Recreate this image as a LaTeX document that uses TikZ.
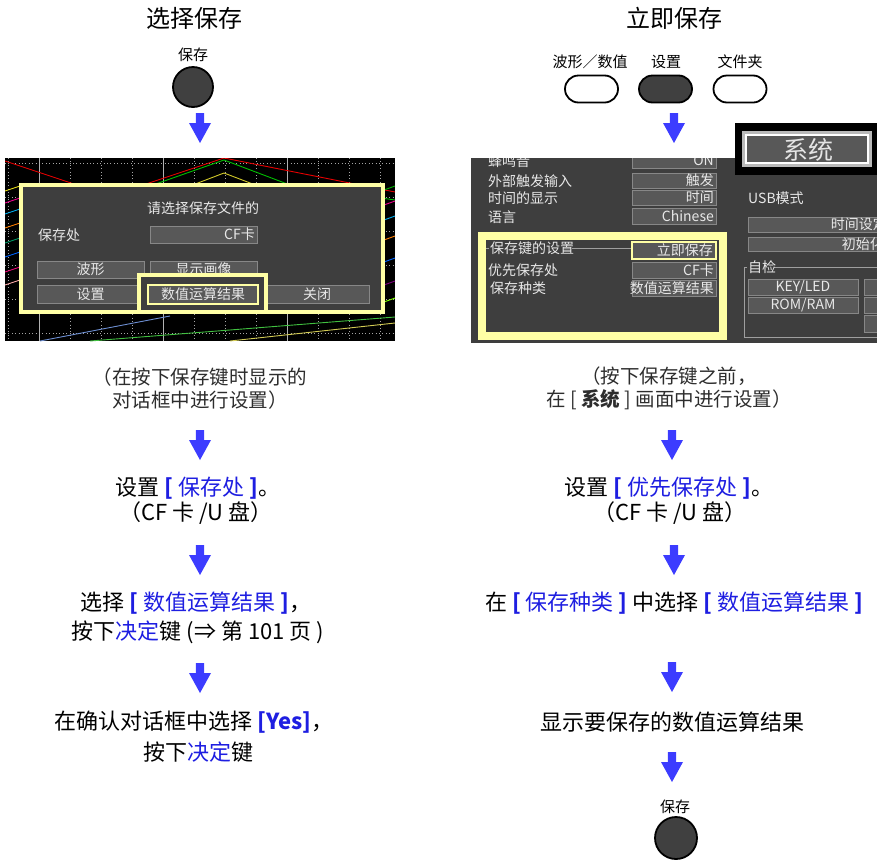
\documentclass[tikz,border=0pt]{standalone}
\usepackage{fontspec}
\setmainfont{Noto Sans CJK SC}
\definecolor{arrowblue}{RGB}{60,60,255}
\definecolor{txtblue}{RGB}{30,30,225}
\definecolor{btndark}{RGB}{64,64,64}
\definecolor{scrbg}{RGB}{62,62,62}
\definecolor{fieldbg}{RGB}{88,88,88}
\definecolor{fieldln}{RGB}{135,135,135}
\definecolor{hiyel}{RGB}{255,255,165}
\definecolor{scrfg}{RGB}{232,232,232}
\definecolor{softblack}{RGB}{45,45,45}
\newcommand{\fsz}[1]{\fontsize{#1}{#1}\selectfont}
\tikzset{
  hdr/.style={font=\fsz{24}, inner sep=0pt},
  keylbl/.style={font=\fsz{15}, inner sep=0pt},
  bodytxt/.style={font=\fsz{22}, inner sep=0pt},
  notetxt/.style={font=\fontsize{19.5}{23}\selectfont, text=softblack, align=center, inner sep=0pt},
  roundkey/.style={circle, draw=black, line width=1.8pt, fill=btndark, minimum size=40pt, inner sep=0pt},
  pillkey/.style={draw=black, line width=1.8pt, rounded corners=13.5pt, minimum width=53pt, minimum height=27pt, inner sep=0pt},
  scrlbl/.style={font=\fsz{14}, text=scrfg, inner sep=0pt},
  fieldbox/.style={fill=fieldbg, draw=fieldln, line width=0.8pt},
  dotgrid/.style={gray!70, line width=0.6pt, dash pattern=on 0.8pt off 2.6pt},
  wave/.style={line width=0.9pt},
  pics/flowarrow/.style={code={\fill[arrowblue] (-4.2,0) -- (4.2,0) -- (4.2,10) -- (11,10) -- (0,30) -- (-11,10) -- (-4.2,10) -- cycle;}},
}
\begin{document}
\begin{tikzpicture}[x=1pt,y=-1pt]
\useasboundingbox (0,0) rectangle (877,860);

% ================= LEFT COLUMN =================
\node[hdr] (ltitle) at (194,18) {选择保存};
\node[keylbl] (lkeylbl) at (193,55) {保存};
\node[roundkey] (lkey) at (193,87) {};
\pic at (200,113) {flowarrow};

% left screenshot
\begin{scope}
\clip (5,158) rectangle (395,341);
\fill[black] (5,158) rectangle (395,341);
\foreach \x in {8,70,101,132,194,225,256,318,349,380} \draw[dotgrid] (\x,158) -- (\x,341);
\foreach \y in {163,197,231,265,299,333} \draw[dotgrid] (5,\y) -- (395,\y);
\foreach \x in {39,163,287} \draw[gray!60, line width=0.8pt] (\x,158) -- (\x,341);
\draw[wave, red!90!black] (5,161) -- (110,196) -- (224,158) -- (395,192);
\draw[wave, green!75!black] (150,186) -- (224,160) -- (290,185) -- (395,200);
\draw[wave, yellow!80!black] (190,186) -- (224,173) -- (258,186);
\draw[wave, yellow!90!black] (5,191) -- (20,186);
\draw[wave, magenta] (5,203) -- (20,198);
\draw[wave, cyan] (5,214) -- (20,209);
\draw[wave, orange] (5,228) -- (20,223);
\draw[wave, teal!80!green] (5,243) -- (20,238);
\draw[wave, blue!60!cyan] (5,257) -- (20,252);
\draw[wave, magenta!80!red] (5,272) -- (20,267);
\draw[wave, pink!90!red] (5,285) -- (20,280);
\draw[wave, green!70!black] (384,190) -- (395,186);
\draw[wave, magenta] (384,205) -- (395,201);
\draw[wave, cyan] (384,220) -- (395,216);
\draw[wave, orange] (384,240) -- (395,236);
\draw[wave, blue!60!cyan] (384,262) -- (395,258);
\draw[wave, violet] (384,285) -- (395,281);
\draw[wave, green!50!yellow] (384,302) -- (395,298);
\draw[wave, cyan!40!blue!60] (40,341) -- (170,316);
\draw[wave, green!50!gray] (90,341) -- (395,317);
\draw[wave, yellow!60!gray] (230,341) -- (395,323);
\end{scope}

% dialog
\fill[hiyel] (19,183) rectangle (385,314);
\fill[scrbg] (23,187) rectangle (381,310);
\node[scrlbl] (dlgtitle) at (203,208) {请选择保存文件的};
\node[scrlbl, anchor=west] (dlgdest) at (38,235) {保存处};
\draw[fieldbox] (150,226) rectangle (257,243);
\node[scrlbl, anchor=east] (dlgcf) at (255,234.5) {CF卡};
\draw[fieldbox] (37,261) rectangle (144,278);
\node[scrlbl] (dlgwave) at (90.5,269.5) {波形};
\draw[fieldbox] (150,261) rectangle (257,278);
\node[scrlbl] (dlgimg) at (203.5,269.5) {显示画像};
\draw[fieldbox] (37,285) rectangle (144,303);
\node[scrlbl] (dlgset) at (90.5,294) {设置};
\draw[fieldbox] (265,285) rectangle (369,303);
\node[scrlbl] (dlgclose) at (317,294) {关闭};
\fill[hiyel] (137,273) rectangle (268,314);
\fill[scrbg] (141,277) rectangle (264,310);
\draw[fieldbox, draw=hiyel, line width=1.2pt] (148,285) rectangle (258,304);
\node[scrlbl] (dlgnum) at (203,294.5) {数值运算结果};

% left flow text
\node[notetxt] (lnote) at (200,388.5) {（在按下保存键时显示的\\对话框中进行设置）};
\pic at (200,430) {flowarrow};
\node[bodytxt] (l1a) at (198,488) {设置 \textcolor{txtblue}{\textbf{[} 保存处 \textbf{]}}。};
\node[bodytxt] (l1b) at (196,513) {（CF 卡 /U 盘）};
\pic at (200,545) {flowarrow};
\node[bodytxt] (l2a) at (196,603) {选择 \textcolor{txtblue}{\textbf{[} 数值运算结果 \textbf{]}}，};
\node[bodytxt] (l2b) at (198,632) {按下\textcolor{txtblue}{决定}键 (⇒ 第 101 页 )};
\pic at (200,663) {flowarrow};
\node[bodytxt] (l3a) at (194,722) {在确认对话框中选择 \textcolor{txtblue}{\textbf{[Yes]}}，};
\node[bodytxt] (l3b) at (198,752) {按下\textcolor{txtblue}{决定}键};

% ================= RIGHT COLUMN =================
\node[hdr] (rtitle) at (674,18) {立即保存};
\node[keylbl] (rlblA) at (590,62) {波形／数值};
\node[keylbl] (rlblB) at (666,62) {设置};
\node[keylbl] (rlblC) at (740,62) {文件夹};
\node[pillkey] (rkeyA) at (591.5,89) {};
\node[pillkey, fill=btndark] (rkeyB) at (665.5,89) {};
\node[pillkey] (rkeyC) at (740,89) {};
\pic at (674,113) {flowarrow};

% right screenshot
\begin{scope}
\clip (471,158) rectangle (877,343);
\fill[scrbg] (471,158) rectangle (877,343);
\node[scrlbl, anchor=west] (sbeep) at (488,161) {蜂鸣音};
\draw[fieldbox] (632,150) rectangle (716,168);
\node[scrlbl, anchor=east] (sbeepv) at (714,160) {ON};
\node[scrlbl, anchor=west] (strig) at (488,181) {外部触发输入};
\draw[fieldbox] (632,173) rectangle (716,188);
\node[scrlbl, anchor=east] (strigv) at (714,180.5) {触发};
\node[scrlbl, anchor=west] (stime) at (488,198) {时间的显示};
\draw[fieldbox] (632,190) rectangle (716,205);
\node[scrlbl, anchor=east] (stimev) at (714,197.5) {时间};
\node[scrlbl, anchor=west] (slang) at (488,217) {语言};
\draw[fieldbox] (632,208) rectangle (716,224);
\node[scrlbl, anchor=east] (slangv) at (714,216) {Chinese};
\fill[hiyel] (478,232) rectangle (727,340);
\fill[scrbg] (486,240) rectangle (719,332);
\draw[gray!75, line width=0.8pt] (486,248) -- (489,248);
\draw[gray!75, line width=0.8pt] (572,248) -- (632,248);
\node[scrlbl, anchor=west] (skey) at (490,248) {保存键的设置};
\draw[fieldbox, draw=hiyel, line width=1.2pt] (632,242) rectangle (716,259);
\node[scrlbl, anchor=east] (skeyv) at (713,250.5) {立即保存};
\node[scrlbl, anchor=west] (sdest) at (488,270) {优先保存处};
\draw[fieldbox] (632,262) rectangle (716,278);
\node[scrlbl, anchor=east] (sdestv) at (714,270) {CF卡};
\node[scrlbl, anchor=west] (stype) at (490,288) {保存种类};
\draw[fieldbox] (632,280) rectangle (716,296);
\node[scrlbl, anchor=east] (stypev) at (714,288) {数值运算结果};
\node[scrlbl, anchor=west] (susb) at (748,198) {USB模式};
\draw[fieldbox] (748,217) rectangle (900,232);
\node[scrlbl, anchor=east] (sclock) at (887,224.5) {时间设定};
\draw[fieldbox] (748,237) rectangle (900,251);
\node[scrlbl, anchor=east] (sinit) at (884,244) {初始化};
\draw[gray!75, line width=0.8pt] (747,267) -- (744,267) -- (744,337) -- (877,337);
\draw[gray!75, line width=0.8pt] (774,267) -- (877,267);
\node[scrlbl, anchor=west] (scheck) at (748,267) {自检};
\draw[fieldbox] (748,279) rectangle (858,295);
\node[scrlbl] (skeyled) at (803,287) {KEY/LED};
\draw[fieldbox] (748,297) rectangle (858,313);
\node[scrlbl] (sromram) at (803,305) {ROM/RAM};
\draw[fieldbox] (864,279) rectangle (900,295);
\draw[fieldbox] (864,297) rectangle (900,313);
\draw[fieldbox] (864,315) rectangle (900,332);
\end{scope}

% system tab
\fill[black] (735,123) rectangle (877,175);
\fill[gray!55] (742,131) rectangle (872,167);
\draw[white, line width=1.5pt, fill=fieldbg] (746,135) rectangle (868,163);
\node[font=\fsz{25}, text=gray!20, inner sep=0pt] (stab) at (808,150) {系统};

% right flow text
\node[notetxt] (rnote) at (669,388.5) {（按下保存键之前，\\在 [ \textbf{系统} ] 画面中进行设置）};
\pic at (672,430) {flowarrow};
\node[bodytxt] (r1a) at (669,488) {设置 \textcolor{txtblue}{\textbf{[} 优先保存处 \textbf{]}}。};
\node[bodytxt] (r1b) at (670,513) {（CF 卡 /U 盘）};
\pic at (674,545) {flowarrow};
\node[bodytxt] (r2) at (674,603) {在 \textcolor{txtblue}{\textbf{[} 保存种类 \textbf{]}} 中选择 \textcolor{txtblue}{\textbf{[} 数值运算结果 \textbf{]}}};
\pic at (672,662) {flowarrow};
\node[bodytxt] (r3) at (672,722) {显示要保存的数值运算结果};
\pic at (672,752) {flowarrow};
\node[keylbl] (rkeylbl) at (675,807) {保存};
\node[roundkey, minimum size=42pt] (rkey) at (676,838) {};
\end{tikzpicture}
\end{document}
